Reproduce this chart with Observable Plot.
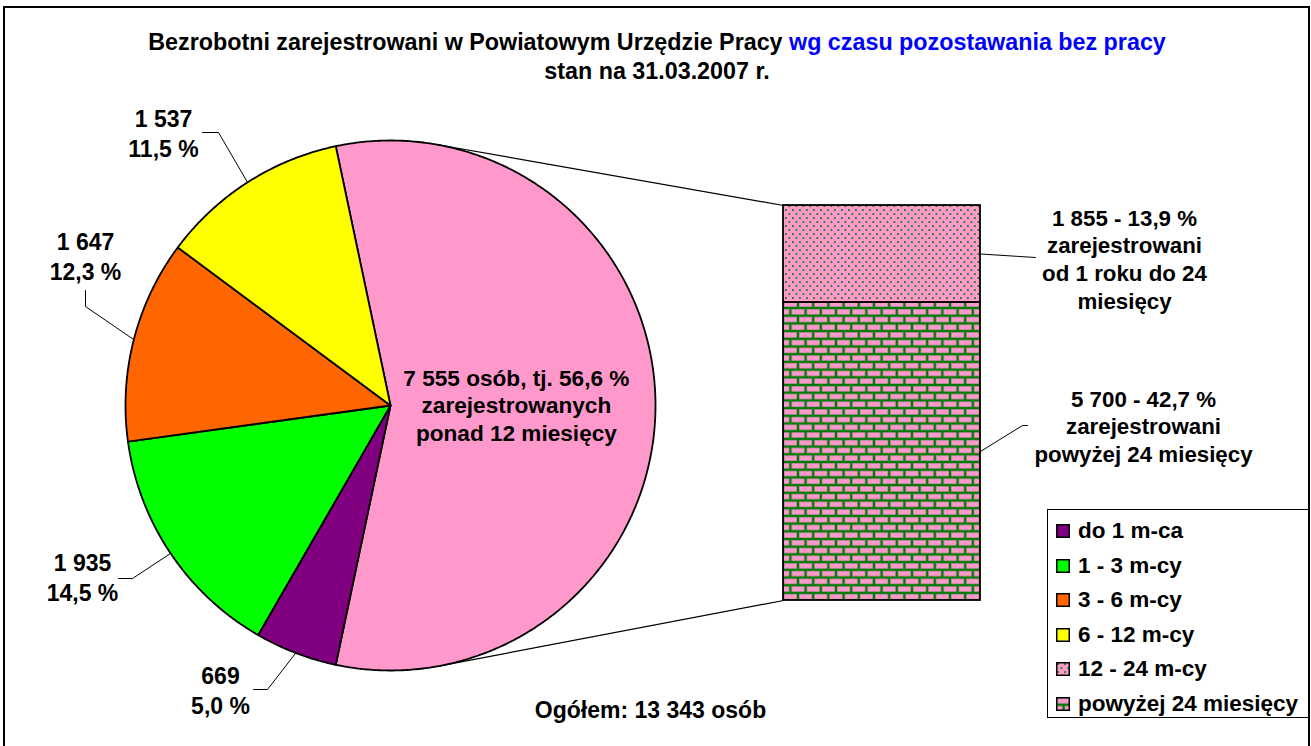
<!DOCTYPE html>
<html><head><meta charset="utf-8">
<script src="https://cdn.jsdelivr.net/npm/d3@7"></script>
<script src="https://cdn.jsdelivr.net/npm/@observablehq/plot@0.6"></script>
<style>
html,body{margin:0;padding:0;background:#fff;}
#wrap{position:relative;width:1311px;height:746px;overflow:hidden;font-family:"Liberation Sans",Arial,sans-serif;font-weight:bold;color:#000;}
#frame{position:absolute;left:3px;top:6px;width:1303px;height:780px;border:2px solid #000;pointer-events:none;}
#title{position:absolute;top:28px;left:0px;width:1314px;text-align:center;font-size:23.3px;line-height:29px;white-space:nowrap;}
#title .blue{color:#0000FF;}
#chart{position:absolute;left:0;top:0;}
#legend{position:absolute;left:1047px;top:509px;width:260px;height:207px;border:1px solid #000;background:#fff;font-size:22.5px;}
#legend .item{position:absolute;left:8px;height:26px;display:flex;align-items:center;white-space:nowrap;}
#legend svg{margin-right:8px;}
#defs{position:absolute;width:0;height:0;}
</style>
</head><body>
<div id="wrap">
  <svg id="defs" width="0" height="0">
    <defs>
      <pattern id="dots" width="7" height="8" patternUnits="userSpaceOnUse">
        <rect width="7" height="8" fill="#FF99CC"/>
        <rect x="1" y="1.2" width="1.8" height="1.8" fill="#108010"/>
        <rect x="4.5" y="5.2" width="1.8" height="1.8" fill="#108010"/>
      </pattern>
      <pattern id="bricks" width="15.2" height="15.4" patternUnits="userSpaceOnUse">
        <rect width="15.2" height="15.4" fill="#007a00"/>
        <rect x="1.3" y="1.3" width="12.6" height="5.1" fill="#FF99CC" stroke="#b98fb0" stroke-width="0.5"/>
        <rect x="8.9" y="9" width="12.6" height="5.1" fill="#FF99CC" stroke="#b98fb0" stroke-width="0.5"/>
        <rect x="-6.3" y="9" width="12.6" height="5.1" fill="#FF99CC" stroke="#b98fb0" stroke-width="0.5"/>
      </pattern>
    </defs>
  </svg>
  <div id="chart"></div>
  <div id="title"></div>
  <div id="legend"></div>
  <div id="frame"></div>
</div>
<script>
// ---------- DATA ----------
const categories = ["do 1 m-ca", "1 - 3 m-cy", "3 - 6 m-cy", "6 - 12 m-cy", "12 - 24 m-cy", "powyżej 24 miesięcy"];
const counts = [669, 1935, 1647, 1537, 1855, 5700];
const percents = ["5,0", "14,5", "12,3", "11,5", "13,9", "42,7"];
const total = 13343;
const otherPercent = "56,6";
const barDescriptions = ["zarejestrowani\nod 1 roku do 24\nmiesięcy", "zarejestrowani\npowyżej 24 miesięcy"];
const otherDescription = "zarejestrowanych\nponad 12 miesięcy";
const titleMain = "Bezrobotni zarejestrowani w Powiatowym Urzędzie Pracy ";
const titleBlue = "wg czasu pozostawania bez pracy";
const subtitle = "stan na 31.03.2007 r.";
const totalLabel = "Ogółem: 13 343 osób";

// ---------- STYLE / LAYOUT ----------
const colors = ["#800080", "#00FF00", "#FF6600", "#FFFF00", "url(#dots)", "url(#bricks)"];
const pieColor = "#FF99CC";
const W = 1311, H = 746;
const pie = {cx: 390, cy: 405, r: 265};
const bar = {left: 783, right: 980, top: 205, bottom: 600};
// label block centre and leader geometry for the four pie slices (manual Excel placement)
const pieLabelLayout = [
  {x: 220, y: 689, attach: [253, 689], elbow: [267, 689]},
  {x: 82,  y: 576, attach: [118, 578], elbow: [132, 578]},
  {x: 85,  y: 255, attach: [85, 290],  elbow: [85, 306]},
  {x: 163, y: 132, attach: [202, 132], elbow: [218, 132]}
];
const barLabelLayout = [
  {x: 1124, y: 258, end: [1035, 257], elbow: null},
  {x: 1143, y: 425, end: [1027, 425], elbow: [1022, 425]}
];
const fontFamily = '"Liberation Sans", Arial, sans-serif';

// ---------- GEOMETRY ----------
const fmt = n => d3.format(",")(n).replace(/,/g, " ");
const otherCount = counts[4] + counts[5];
const pieValues = [otherCount, counts[0], counts[1], counts[2], counts[3]];
const pieSum = d3.sum(pieValues);
const otherSpan = otherCount / pieSum * 360;
const startAngle = 90 - otherSpan / 2; // "other" slice centred on 3 o'clock
const rad = a => a * Math.PI / 180;
const pt = (a, r = pie.r) => [pie.cx + r * Math.sin(rad(a)), pie.cy - r * Math.cos(rad(a))];

const slices = [];
let acc = startAngle;
pieValues.forEach((v, i) => {
  const a0 = acc, a1 = acc + v / pieSum * 360;
  acc = a1;
  slices.push({key: i === 0 ? "other" : categories[i - 1], idx: i - 1, a0, a1, fill: i === 0 ? pieColor : colors[i - 1]});
});
const slicePts = [];
slices.forEach(s => {
  slicePts.push({key: s.key, fill: s.fill, x: pie.cx, y: pie.cy});
  const n = Math.max(2, Math.ceil((s.a1 - s.a0) / 0.5));
  for (let k = 0; k <= n; k++) {
    const [x, y] = pt(s.a0 + (s.a1 - s.a0) * k / n);
    slicePts.push({key: s.key, fill: s.fill, x, y});
  }
  slicePts.push({key: s.key, fill: s.fill, x: pie.cx, y: pie.cy});
});

// pie labels
const pieLabels = slices.slice(1).map(s => {
  const L = pieLabelLayout[s.idx];
  return {key: s.key, x: L.x, y: L.y, text: fmt(counts[s.idx]) + "\n" + percents[s.idx] + " %", mid: pt((s.a0 + s.a1) / 2), L};
});
const leaderPts = [];
pieLabels.forEach(d => {
  leaderPts.push({key: d.key, x: d.mid[0], y: d.mid[1]});
  leaderPts.push({key: d.key, x: d.L.elbow[0], y: d.L.elbow[1]});
  leaderPts.push({key: d.key, x: d.L.attach[0], y: d.L.attach[1]});
});

// bar of pie (stacked, value scale)
const barY = d3.scaleLinear().domain([0, otherCount]).range([bar.bottom, bar.top]);
const barSegs = [
  {key: categories[5], y0: 0, y1: counts[5], fill: colors[5], i: 5},
  {key: categories[4], y0: counts[5], y1: counts[5] + counts[4], fill: colors[4], i: 4}
];
const barLabels = [
  {x: barLabelLayout[0].x, y: barLabelLayout[0].y, text: fmt(counts[4]) + " - " + percents[4] + " %\n" + barDescriptions[0]},
  {x: barLabelLayout[1].x, y: barLabelLayout[1].y, text: fmt(counts[5]) + " - " + percents[5] + " %\n" + barDescriptions[1]}
];
const barLeaders = [];
[{seg: barSegs[1], L: barLabelLayout[0]}, {seg: barSegs[0], L: barLabelLayout[1]}].forEach(({seg, L}, j) => {
  const ym = barY((seg.y0 + seg.y1) / 2);
  barLeaders.push({key: j, x: bar.right, y: ym});
  if (L.elbow) barLeaders.push({key: j, x: L.elbow[0], y: L.elbow[1]});
  barLeaders.push({key: j, x: L.end[0], y: L.end[1]});
});

// series lines: tangents from bar corners to the pie circle
function tangent(px, py, side) {
  const dx = px - pie.cx, dy = py - pie.cy;
  const d = Math.hypot(dx, dy);
  const base = Math.atan2(dy, dx);
  const off = Math.acos(pie.r / d);
  const t = base + side * off;
  return [pie.cx + pie.r * Math.cos(t), pie.cy + pie.r * Math.sin(t)];
}
const tTop = tangent(bar.left, barY(otherCount), -1);
const tBot = tangent(bar.left, barY(0), 1);
const seriesLines = [
  {x1: tTop[0], y1: tTop[1], x2: bar.left, y2: barY(otherCount)},
  {x1: tBot[0], y1: tBot[1], x2: bar.left, y2: barY(0)}
];

const otherText = fmt(otherCount) + " osób, tj. " + otherPercent + " %\n" + otherDescription;

const chart = Plot.plot({
  width: W, height: H, margin: 0,
  x: {domain: [0, W], range: [0, W], axis: null},
  y: {domain: [0, H], range: [0, H], axis: null},
  color: {type: "identity"},
  style: {background: "transparent", fontFamily},
  marks: [
    Plot.link(seriesLines, {x1: "x1", y1: "y1", x2: "x2", y2: "y2", stroke: "#000", strokeWidth: 1.2}),
    Plot.line(slicePts, {x: "x", y: "y", z: "key", fill: "fill", stroke: "#000", strokeWidth: 1.8, strokeLinejoin: "round", curve: "linear"}),
    Plot.rect(barSegs, {x1: () => bar.left, x2: () => bar.right, y1: d => barY(d.y0), y2: d => barY(d.y1), fill: "fill", stroke: "#000", strokeWidth: 1.8}),
    Plot.line(leaderPts, {x: "x", y: "y", z: "key", stroke: "#000", strokeWidth: 1, curve: "linear"}),
    Plot.line(barLeaders, {x: "x", y: "y", z: "key", stroke: "#000", strokeWidth: 1, curve: "linear"}),
    Plot.text(pieLabels, {x: "x", y: "y", text: "text", fontSize: 23, fontWeight: "bold", lineHeight: 1.32, fill: "#000"}),
    Plot.text([otherText], {x: () => pie.cx + 0.475 * pie.r, y: () => pie.cy - 1, text: d => d, fontSize: 22.6, fontWeight: "bold", lineHeight: 1.23, fill: "#000"}),
    Plot.text(barLabels, {x: "x", y: "y", text: "text", fontSize: 22.3, fontWeight: "bold", lineHeight: 1.25, fill: "#000"}),
    Plot.text([totalLabel], {x: () => 650, y: () => 710, text: d => d, fontSize: 23, fontWeight: "bold", fill: "#000"})
  ]
});
document.getElementById("chart").appendChild(chart);

// title
const t = document.getElementById("title");
t.innerHTML = "";
const l1 = document.createElement("div");
l1.appendChild(document.createTextNode(titleMain));
const sp = document.createElement("span"); sp.className = "blue"; sp.textContent = titleBlue; l1.appendChild(sp);
const l2 = document.createElement("div"); l2.textContent = subtitle;
t.appendChild(l1); t.appendChild(l2);

// legend
const lg = document.getElementById("legend");
categories.forEach((c, i) => {
  const it = document.createElement("div");
  it.className = "item";
  it.style.top = (8 + i * 34.5) + "px";
  const ns = "http://www.w3.org/2000/svg";
  const s = document.createElementNS(ns, "svg");
  s.setAttribute("width", 14); s.setAttribute("height", 14);
  const r = document.createElementNS(ns, "rect");
  r.setAttribute("x", 0.75); r.setAttribute("y", 0.75); r.setAttribute("width", 12.5); r.setAttribute("height", 12.5);
  r.setAttribute("fill", colors[i]); r.setAttribute("stroke", "#000"); r.setAttribute("stroke-width", 1.5);
  s.appendChild(r);
  it.appendChild(s);
  const tx = document.createElement("span"); tx.textContent = c; it.appendChild(tx);
  lg.appendChild(it);
});
</script>
</body></html>
